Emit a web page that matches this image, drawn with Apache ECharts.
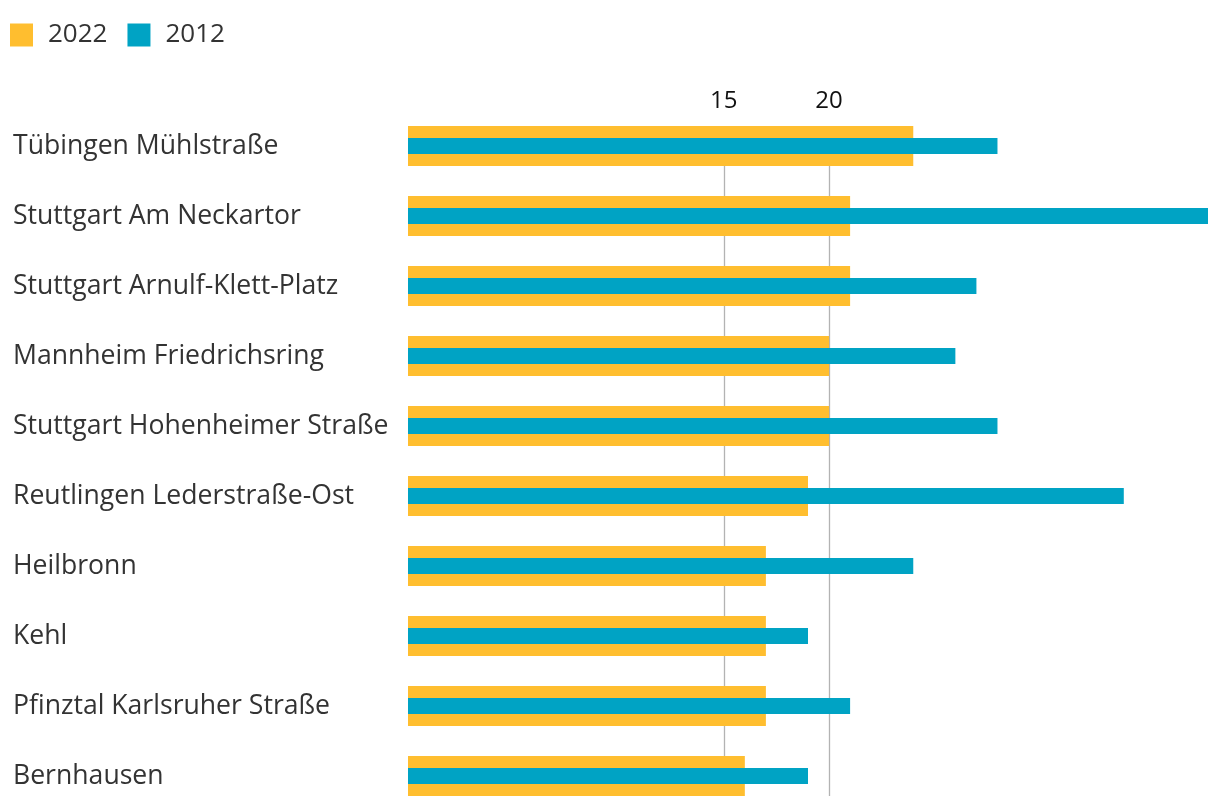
<!DOCTYPE html>
<html>
<head>
<meta charset="utf-8">
<script src="https://cdn.jsdelivr.net/npm/echarts@6/dist/echarts.min.js"></script>
<style>
html,body{margin:0;padding:0;background:#fff;}
#chart{width:1220px;height:806px;}
</style>
</head>
<body>
<div id="chart"></div>
<script>
const categories = [
  'Tübingen Mühlstraße',
  'Stuttgart Am Neckartor',
  'Stuttgart Arnulf-Klett-Platz',
  'Mannheim Friedrichsring',
  'Stuttgart Hohenheimer Straße',
  'Reutlingen Lederstraße-Ost',
  'Heilbronn',
  'Kehl',
  'Pfinztal Karlsruher Straße',
  'Bernhausen'
];
const values2022 = [24, 21, 21, 20, 20, 19, 17, 17, 17, 16];
const values2012 = [28, 38, 27, 26, 28, 34, 24, 19, 21, 19];
const tickLabels = [15, 20];

const FONT = '"Open Sans", sans-serif';
const chart = echarts.init(document.getElementById('chart'));
chart.setOption({
  animation: false,
  textStyle: { fontFamily: FONT },
  legend: {
    left: 10, top: 22, padding: 0,
    itemWidth: 23, itemHeight: 23, itemGap: 20,
    icon: 'rect',
    textStyle: { fontSize: 26, color: '#333', fontFamily: FONT, padding: [0, 0, 0, 10] },
    data: ['2022', '2012']
  },
  grid: [
    { left: 408, right: 12, top: 111, height: 700, outerBoundsMode: 'none', containLabel: false },
    { left: 408, right: 12, top: 126, bottom: 10, outerBoundsMode: 'none', containLabel: false }
  ],
  xAxis: [
    { gridIndex: 0, type: 'value', min: 0, max: 38, show: false },
    {
      gridIndex: 1, type: 'value', min: 0, max: 38, interval: 5, position: 'top',
      axisLine: { show: false }, axisTick: { show: false }, splitLine: { show: false },
      axisLabel: {
        margin: 13, fontSize: 24, color: '#111', fontFamily: FONT,
        formatter: v => tickLabels.indexOf(v) >= 0 ? String(v) : ''
      }
    }
  ],
  yAxis: [
    {
      gridIndex: 0, type: 'category', data: categories, inverse: true,
      axisLine: { show: false }, axisTick: { show: false }, splitLine: { show: false },
      axisLabel: {
        align: 'left', margin: 395, fontSize: 26.6, color: '#333', fontFamily: FONT,
        padding: [4, 0, 0, 0]
      }
    },
    {
      gridIndex: 0, type: 'category', data: categories, inverse: true, show: false
    },
    { gridIndex: 1, type: 'value', min: 0, max: 1, show: false }
  ],
  series: [
    {
      type: 'line', xAxisIndex: 1, yAxisIndex: 2, data: [], silent: true, z: 0,
      markLine: {
        silent: true, symbol: 'none', label: { show: false }, z: 0,
        lineStyle: { color: '#b3b3b3', width: 1.3, type: 'solid' },
        data: tickLabels.map(v => ({ xAxis: v }))
      }
    },
    {
      name: '2022', type: 'bar', xAxisIndex: 0, yAxisIndex: 0,
      data: values2022, barWidth: 40,
      itemStyle: { color: '#FFBE2F' }, z: 2
    },
    {
      name: '2012', type: 'bar', xAxisIndex: 0, yAxisIndex: 1,
      data: values2012, barWidth: 16,
      itemStyle: { color: '#00A3C4' }, z: 3
    }
  ]
});
</script>
</body>
</html>
